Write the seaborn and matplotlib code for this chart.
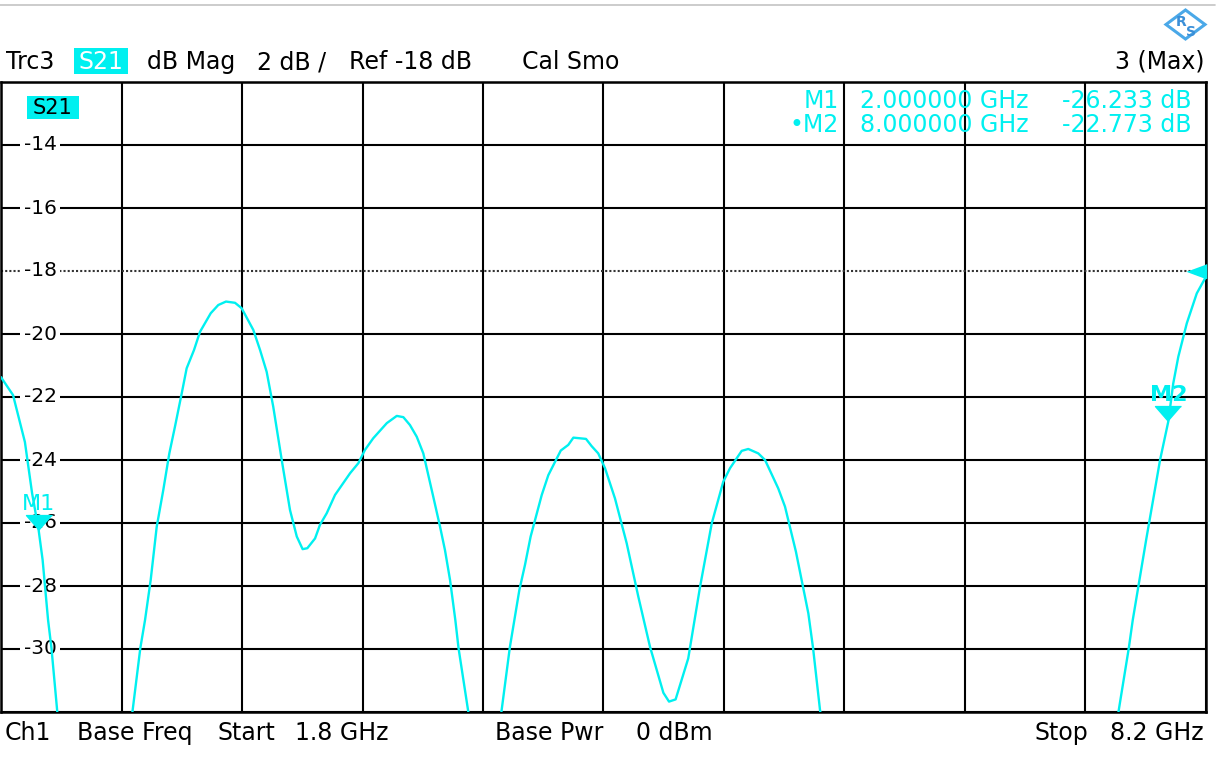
import numpy as np
import pandas as pd
import matplotlib
matplotlib.use("Agg")
import matplotlib.pyplot as plt
import seaborn as sns
from matplotlib.patches import Rectangle, Polygon
from matplotlib.lines import Line2D

# ---------------- data ----------------
freq_ghz = [
    1.800, 1.864, 1.927, 1.965, 2.000, 2.021, 2.050, 2.068, 2.099,
    2.150, 2.300, 2.450,
    2.498, 2.540, 2.565, 2.595, 2.627, 2.662, 2.694, 2.724, 2.760, 2.786,
    2.825, 2.857, 2.914, 2.954, 2.995, 3.043, 3.078, 3.140, 3.176, 3.211,
    3.246, 3.291, 3.335, 3.371, 3.402, 3.427, 3.468, 3.494, 3.530, 3.574,
    3.654, 3.698, 3.733, 3.777, 3.849, 3.902, 3.937, 3.972, 4.008, 4.043,
    4.096, 4.132, 4.158, 4.185, 4.213, 4.230, 4.282,
    4.320, 4.370, 4.420,
    4.459, 4.503, 4.553, 4.583, 4.613, 4.672, 4.707, 4.773, 4.813, 4.840,
    4.907, 4.937, 4.972, 5.008, 5.061, 5.123, 5.185, 5.247, 5.318, 5.348,
    5.383, 5.450, 5.513, 5.575, 5.636, 5.672, 5.734, 5.769, 5.822, 5.858,
    5.928, 5.964, 6.022, 6.088, 6.113, 6.150,
    6.250, 6.500, 7.000, 7.500, 7.650,
    7.735, 7.790, 7.811, 7.882, 7.956, 8.000, 8.026, 8.053, 8.098, 8.151,
    8.200,
]
s21_db = [
    -21.37, -21.94, -23.43, -25.05, -26.23, -27.17, -29.08, -29.97, -32.00,
    -34.5, -37.0, -34.2,
    -32.00, -29.97, -29.08, -27.81, -26.12, -24.95, -23.79, -22.94, -21.88, -21.09,
    -20.51, -19.93, -19.34, -19.08, -18.97, -19.01, -19.18, -19.87, -20.51, -21.20,
    -22.31, -24.00, -25.59, -26.43, -26.83, -26.80, -26.49, -26.06, -25.69, -25.11,
    -24.42, -24.10, -23.68, -23.31, -22.83, -22.60, -22.64, -22.89, -23.26, -23.79,
    -25.17, -26.12, -26.86, -27.81, -29.08, -29.97, -32.00,
    -33.8, -35.0, -33.6,
    -31.94, -29.93, -28.13, -27.33, -26.43, -25.11, -24.48, -23.70, -23.52, -23.29,
    -23.33, -23.56, -23.79, -24.26, -25.22, -26.64, -28.34, -29.93, -31.39, -31.67,
    -31.60, -30.30, -28.02, -26.01, -24.69, -24.26, -23.71, -23.65, -23.79, -24.00,
    -24.90, -25.48, -26.91, -28.87, -29.97, -31.94,
    -35.5, -40.0, -45.0, -38.0, -34.5,
    -32.00, -29.97, -29.08, -26.54, -24.00, -22.77, -21.57, -20.72, -19.66, -18.71,
    -18.18,
]
marker_names = ["M1", "M2"]
marker_freq = [2.0, 8.0]
marker_db = [-26.233, -22.773]
y_tick_values = [-14, -16, -18, -20, -22, -24, -26, -28, -30]
start_ghz, stop_ghz = 1.8, 8.2
ref_db = -18
y_top, y_bottom = -12, -32

# ---------------- style ----------------
sns.set_style("white")
plt.rcParams["font.family"] = ["DejaVu Sans"]
plt.rcParams["text.color"] = "black"

W, H = 1226, 776
CYAN = "#00F0F0"


def fx(px):
    return px / W


def fy(py):
    return 1 - py / H


fig = plt.figure(figsize=(W / 100, H / 100), dpi=100)
fig.patch.set_facecolor("white")
ax = fig.add_axes([fx(1), fy(712), (1206 - 1) / W, (712 - 82) / H])
ax.set_facecolor("white")

df = pd.DataFrame({"freq": freq_ghz, "db": s21_db})
sns.lineplot(data=df, x="freq", y="db", sort=False, estimator=None,
             color=CYAN, lw=1.7, ax=ax, zorder=5)

ax.set_xlim(start_ghz, stop_ghz)
ax.set_ylim(y_bottom, y_top)
ax.set_xticks(np.linspace(start_ghz, stop_ghz, 11))
ax.set_yticks([v for v in range(y_bottom, y_top + 1, 2) if v != ref_db])
ax.set_axisbelow(True)
ax.grid(True, color="black", lw=1.5)
ax.tick_params(length=0, labelbottom=False, labelleft=False)
ax.set_xlabel("")
ax.set_ylabel("")
ax.axhline(ref_db, color="#333333", ls=(0, (1, 1)), lw=1.5, zorder=1)
for sp in ax.spines.values():
    sp.set_color("black")
    sp.set_linewidth(1.8)

# y labels inside the grid
for v in y_tick_values:
    ax.text(0.0324, v, f"{v}", transform=ax.get_yaxis_transform(),
            ha="center", va="center", fontsize=14.5, color="black",
            bbox=dict(fc="white", ec="none", pad=2.5), zorder=3)

# marker triangles (tip on the trace)
tri_down = [(0, 0), (-0.87, 1), (0.87, 1)]
for name, f, d in zip(marker_names, marker_freq, marker_db):
    ax.plot([f], [d], marker=tri_down, ms=21.5, color=CYAN, mec=CYAN,
            ls="none", zorder=6, clip_on=False)
    ax.annotate(name, (f, d), xytext=(0, 15), textcoords="offset points",
                ha="center", va="baseline", fontsize=16, color=CYAN,
                fontweight="bold" if name == "M2" else "normal", zorder=7)

# reference level arrow at right edge
tri_left = [(-1, 0), (0, -0.37), (0, 0.37)]
ax.plot([stop_ghz], [ref_db], marker=tri_left, ms=27.4, color=CYAN, mec=CYAN,
        ls="none", zorder=6, clip_on=False)

# S21 label inside plot
fig.patches.append(Rectangle((fx(27), fy(119)), 52 / W, 23 / H,
                             transform=fig.transFigure, fc=CYAN, ec="none", zorder=8))
fig.text(fx(53), fy(114), "S21", ha="center", va="baseline", fontsize=15,
         color="black", zorder=9)

# marker readout
mk = 17
mk_rows = [(108, "M1"), (132, "\u2022M2")]
for (base, label), f, d in zip(mk_rows, marker_freq, marker_db):
    fig.text(fx(839), fy(base), label, ha="right", va="baseline", fontsize=mk, color=CYAN)
    fig.text(fx(944), fy(base), f"{f:.6f} GHz", ha="center", va="baseline",
             fontsize=mk, color=CYAN)
    fig.text(fx(1127), fy(base), f"{d:.3f} dB", ha="center", va="baseline",
             fontsize=mk, color=CYAN)

# header
hdr = 17
fig.patches.append(Rectangle((fx(74), fy(74)), 54 / W, 26 / H,
                             transform=fig.transFigure, fc=CYAN, ec="none"))
fig.text(fx(30.5), fy(69), "Trc3", ha="center", va="baseline", fontsize=hdr)
fig.text(fx(101), fy(69), "S21", ha="center", va="baseline", fontsize=hdr, color="white")
fig.text(fx(191), fy(69), "dB Mag", ha="center", va="baseline", fontsize=hdr)
fig.text(fx(291.5), fy(69), "2 dB /", ha="center", va="baseline", fontsize=hdr)
fig.text(fx(410.5), fy(69), f"Ref {ref_db} dB", ha="center", va="baseline", fontsize=hdr)
fig.text(fx(571), fy(69), "Cal Smo", ha="center", va="baseline", fontsize=hdr)
fig.text(fx(1159.5), fy(69), "3 (Max)", ha="center", va="baseline", fontsize=hdr)

# footer
ftr = 17
fig.text(fx(27.5), fy(740), "Ch1", ha="center", va="baseline", fontsize=ftr)
fig.text(fx(135), fy(740), "Base Freq", ha="center", va="baseline", fontsize=ftr)
fig.text(fx(246.5), fy(740), "Start", ha="center", va="baseline", fontsize=ftr)
fig.text(fx(342), fy(740), f"{start_ghz} GHz", ha="center", va="baseline", fontsize=ftr)
fig.text(fx(549.5), fy(740), "Base Pwr", ha="center", va="baseline", fontsize=ftr)
fig.text(fx(674), fy(740), "0 dBm", ha="center", va="baseline", fontsize=ftr)
fig.text(fx(1061), fy(740), "Stop", ha="center", va="baseline", fontsize=ftr)
fig.text(fx(1157), fy(740), f"{stop_ghz} GHz", ha="center", va="baseline", fontsize=ftr)

# top gray rule
fig.add_artist(Line2D([0, fx(1215)], [fy(5), fy(5)], transform=fig.transFigure,
                      color="#c4c4c4", lw=1.2))

# R&S logo
diamond = [(fx(1166), fy(24.5)), (fx(1185.5), fy(10)), (fx(1205), fy(24.5)), (fx(1185.5), fy(39))]
fig.patches.append(Polygon(diamond, closed=True, transform=fig.transFigure,
                           fill=False, ec="#4AA8E8", lw=2.2))
fig.text(fx(1181), fy(26), "R", ha="center", va="baseline", fontsize=10,
         color="#3A8FD8", fontweight="bold")
fig.text(fx(1191), fy(36), "S", ha="center", va="baseline", fontsize=10,
         color="#3A8FD8", fontweight="bold")

fig.savefig("out.png", dpi=100, facecolor="white")
